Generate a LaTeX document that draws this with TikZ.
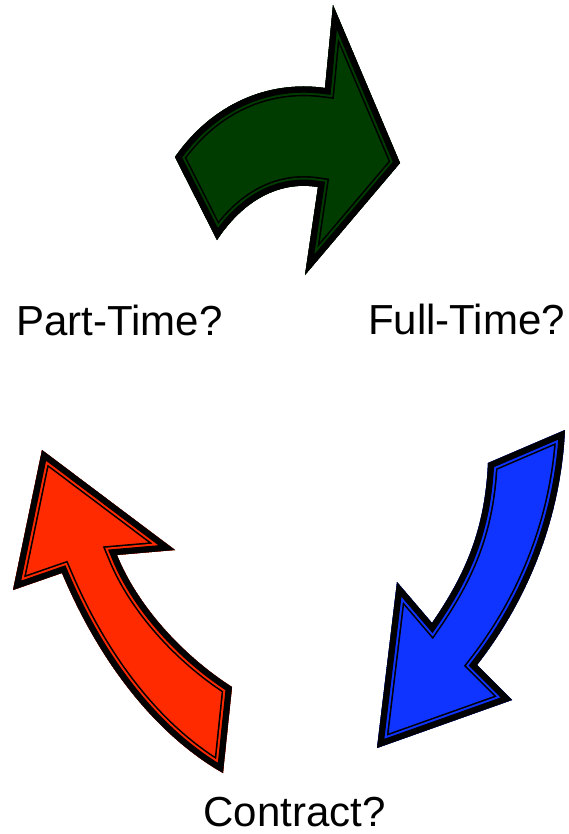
\documentclass[tikz,border=0pt]{standalone}
\usepackage{fontspec}
\setmainfont{Liberation Sans}
\definecolor{arrgreen}{RGB}{0,60,0}
\definecolor{arrblue}{RGB}{16,52,255}
\definecolor{arrred}{RGB}{255,42,0}
\newcommand{\fancyarrow}[2]{%
  \begin{scope}
    \clip #2;
    \fill[#1] #2;
    \draw[black,line width=19.6pt,line join=miter] #2;
    \draw[#1,line width=16.4pt,line join=miter] #2;
    \draw[black,line width=12.4pt,line join=miter] #2;
  \end{scope}}
\begin{document}
\begin{tikzpicture}[x=1pt,y=-1pt,
  lbl/.style={font=\fontsize{42}{48}\selectfont,inner sep=0pt,anchor=base}]
\useasboundingbox (0,0) rectangle (569,834);
% green arrow
\fancyarrow{arrgreen}{(175,157) .. controls (212,104) and (268,80) .. (325,88)
  -- (333,5) -- (400,163) -- (305,275) -- (318,187)
  .. controls (275,180) and (240,205) .. (217,240) -- cycle}
% blue arrow
\fancyarrow{arrblue}{(565,430) -- (488,463)
  .. controls (485,530) and (465,575) .. (432,623)
  -- (397,582) -- (377,748) -- (512,700) -- (477,665)
  .. controls (520,610) and (560,530) .. (565,430) -- cycle}
% red arrow
\fancyarrow{arrred}{(42,450) -- (175,550) -- (117,555)
  .. controls (137,605) and (182,655) .. (232,687)
  -- (223,773)
  .. controls (165,740) and (105,675) .. (62,573)
  -- (13,590) -- cycle}
\node[lbl] (pt) at (119.5,335) {Part-Time?};
\node[lbl] (ft) at (466.5,334) {Full-Time?};
\node[lbl] (ct) at (294.5,826) {Contract?};
\end{tikzpicture}
\end{document}
